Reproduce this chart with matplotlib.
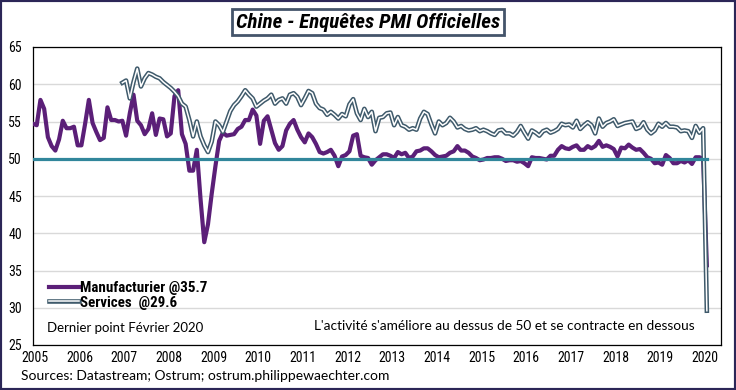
import numpy as np
import matplotlib
matplotlib.use('Agg')
import matplotlib.pyplot as plt
from matplotlib.lines import Line2D
from matplotlib.patches import Rectangle
from matplotlib import font_manager

# PMI manufacturier (NBS), mensuel janv. 2005 -> fevr. 2020
manuf = [
    54.7, 54.5, 57.9, 56.7, 52.9, 51.7, 51.1, 52.6, 55.1, 54.1, 54.1, 54.3,
    51.8, 51.8, 54.7, 57.9, 54.8, 53.6, 52.5, 52.8, 56.9, 55.2, 55.2, 55.0,
    55.1, 53.1, 56.1, 58.6, 55.1, 54.5, 53.3, 54.0, 56.1, 53.2, 55.4, 55.3,
    53.0, 53.4, 58.4, 59.2, 53.3, 52.0, 48.4, 48.4, 51.2, 44.6, 38.8, 41.2,
    45.3, 49.0, 52.4, 53.5, 53.1, 53.2, 53.3, 54.0, 54.3, 55.2, 55.2, 56.6,
    55.8, 52.0, 55.1, 55.7, 53.9, 52.1, 51.2, 51.7, 53.8, 54.7, 55.2, 53.9,
    52.9, 52.2, 53.4, 52.9, 52.0, 50.9, 50.7, 50.9, 51.2, 50.4, 49.0, 50.3,
    50.5, 51.0, 53.1, 53.3, 50.4, 50.2, 50.1, 49.2, 49.8, 50.2, 50.6, 50.6,
    50.4, 50.1, 50.9, 50.6, 50.8, 50.1, 50.3, 51.0, 51.1, 51.4, 51.4, 51.0,
    50.5, 50.2, 50.3, 50.4, 50.8, 51.0, 51.7, 51.1, 51.1, 50.8, 50.3, 50.1,
    49.8, 49.9, 50.1, 50.1, 50.2, 50.2, 50.0, 49.7, 49.8, 49.8, 49.6, 49.7,
    49.4, 49.0, 50.2, 50.1, 50.1, 50.0, 49.9, 50.4, 50.4, 51.2, 51.7, 51.4,
    51.3, 51.6, 51.8, 51.2, 51.2, 51.7, 51.4, 51.7, 52.4, 51.6, 51.8, 51.6,
    51.3, 50.3, 51.5, 51.4, 51.9, 51.5, 51.2, 51.3, 50.8, 50.2, 50.0, 49.4,
    49.5, 49.2, 50.5, 50.1, 49.4, 49.4, 49.7, 49.5, 49.8, 49.3, 50.2, 50.2,
    50.0, 35.7,
]

# PMI services (non manufacturier), janv. 2007 -> fevr. 2020
services = [
    60.2, 60.5, 58.1, 60.3, 62.1, 59.7, 60.8, 61.5, 61.3, 61.0, 60.8, 60.3,
    59.9, 59.5, 59.0, 58.4, 57.4, 57.0, 55.2, 53.0, 55.0, 53.0, 51.8, 50.9,
    52.3, 55.0, 54.5, 53.6, 55.0, 56.4, 57.2, 57.7, 58.4, 59.2, 58.6, 58.1,
    57.0, 57.4, 57.8, 58.1, 58.6, 57.4, 57.9, 58.1, 57.4, 58.6, 58.8, 58.3,
    57.2, 58.1, 59.1, 58.8, 57.4, 56.8, 56.6, 55.9, 56.3, 55.9, 55.4, 56.0,
    55.7, 57.3, 58.0, 56.1, 55.2, 56.7, 55.6, 56.3, 53.7, 55.5, 55.6, 56.1,
    56.2, 54.5, 55.6, 54.5, 54.3, 53.9, 54.1, 53.9, 55.4, 56.3, 56.0, 54.6,
    53.4, 55.0, 54.5, 54.8, 55.5, 55.0, 54.2, 54.4, 54.0, 53.8, 53.9, 54.1,
    53.7, 53.9, 53.7, 53.4, 53.2, 53.8, 53.9, 53.4, 53.4, 53.1, 53.6, 54.4,
    53.5, 52.7, 53.8, 53.5, 53.1, 53.7, 53.9, 53.5, 53.7, 54.0, 54.7, 54.5,
    54.6, 54.2, 55.1, 54.0, 54.5, 54.9, 54.5, 53.4, 55.4, 54.3, 54.8, 55.0,
    55.3, 54.4, 54.6, 54.8, 54.9, 55.0, 54.0, 54.2, 54.9, 53.9, 53.4, 53.8,
    54.7, 54.3, 54.8, 54.3, 54.3, 54.2, 53.7, 53.8, 53.7, 52.8, 54.4, 53.5,
    54.1, 29.6,
]

seuil = 50
annees = list(range(2005, 2021))

t_manuf = 2005 + np.arange(len(manuf)) / 12
t_serv = 2007 + np.arange(len(services)) / 12

# police etroite si dispo (type Arial Narrow)
noms = {f.name for f in font_manager.fontManager.ttflist}
narrow = [n for n in ['Liberation Sans Narrow', 'DejaVu Sans Condensed',
                      'Roboto Condensed', 'Open Sans Condensed'] if n in noms]
narrow = narrow[:1] + ['Liberation Sans', 'DejaVu Sans']
etroit = narrow[0] != 'Liberation Sans'
plt.rcParams['font.family'] = narrow
if not etroit:
    plt.rcParams['font.stretch'] = 'condensed'

fs_tick = 10 if etroit else 9
fs_leg = 10.8 if etroit else 9.5
fs_titre = 15 if etroit else 13

fig = plt.figure(figsize=(7.36, 3.9), dpi=100)
ax = fig.add_axes([33 / 736, 1 - 345 / 390, 688 / 736, 298 / 390])

ax.plot(t_manuf, manuf, color='#5B1F78', lw=3.0, solid_joinstyle='round', zorder=3)
ax.plot(t_serv, services, color='#3F5A6B', lw=3.3, solid_joinstyle='round', zorder=4)
ax.plot(t_serv, services, color='white', lw=1.1, solid_joinstyle='round', zorder=5)
ax.plot([t_manuf[0], t_manuf[-1]], [seuil, seuil], color='#31869B', lw=2.3, zorder=6)

ax.set_xlim(2005.0, 2020.4)
ax.set_ylim(25, 65)
ax.set_yticks(range(25, 66, 5))
ax.set_xticks([a + 0.04 for a in annees])
ax.set_xticklabels([str(a) for a in annees])
ax.tick_params(length=0, labelsize=fs_tick)
ax.tick_params(axis='y', pad=8)
ax.tick_params(axis='x', pad=4)
ax.grid(axis='y', color='#D9D9D9', lw=1)
ax.set_axisbelow(True)
for s in ax.spines.values():
    s.set_color('black')
    s.set_linewidth(0.9)

h_manuf = Line2D([], [], color='#5B1F78', lw=3.0)
h_serv_out = Line2D([], [], color='#3F5A6B', lw=3.3)
h_serv_in = Line2D([], [], color='white', lw=1.1)
leg = ax.legend([h_manuf, (h_serv_out, h_serv_in)],
                ['Manufacturier @35.7', 'Services  @29.6'],
                loc='upper left', bbox_to_anchor=(0.012, 0.24),
                frameon=False, borderpad=0, handlelength=2.0,
                handletextpad=0.05, labelspacing=0.05,
                prop={'family': narrow, 'weight': 'bold', 'size': fs_leg})

# titre
fig.text(0.5, 1 - 22 / 390, 'Chine - Enquêtes PMI Officielles',
         ha='center', va='center', fontsize=fs_titre, fontweight='bold',
         fontstyle='italic', family=narrow,
         bbox=dict(boxstyle='square,pad=0.18', fc='white', ec='#44546A', lw=2))

calib = ['Lato', 'DejaVu Sans']
fig.text(47 / 736, 1 - 328 / 390, 'Dernier point Février 2020',
         ha='left', va='center', fontsize=9.5, family=calib)
fig.text(695 / 736, 1 - 326 / 390,
         "L'activité s'améliore au dessus de 50 et se contracte en dessous",
         ha='right', va='center', fontsize=9.8, family=calib)
fig.text(21 / 736, 1 - 376 / 390,
         'Sources: Datastream; Ostrum; ostrum.philippewaechter.com',
         ha='left', va='center', fontsize=10, family=calib)

# cadre exterieur
fig.patches.append(Rectangle((0, 0), 1, 1, transform=fig.transFigure,
                             fill=False, ec='#2B2657', lw=3))

fig.savefig('out.png', dpi=100)
